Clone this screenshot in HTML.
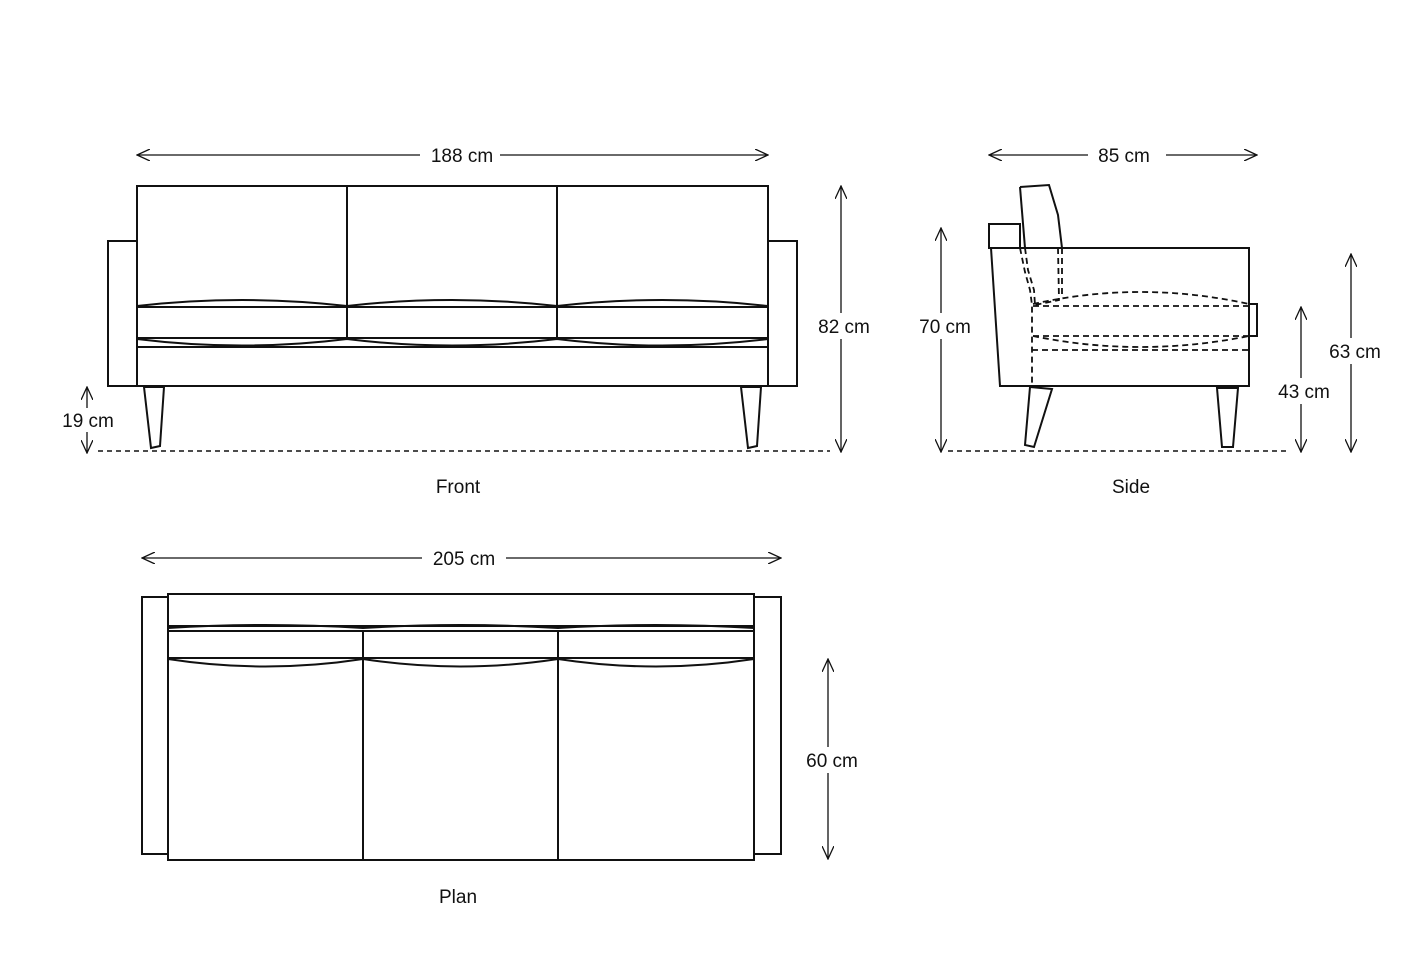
<!DOCTYPE html>
<html><head><style>body{margin:0;background:#fff}svg{display:block}text{font-family:"Liberation Sans",sans-serif;font-size:19px;fill:#111}</style></head><body>
<svg width="1401" height="959" viewBox="0 0 1401 959" xmlns="http://www.w3.org/2000/svg">
<defs><marker id="a" markerWidth="14" markerHeight="12" refX="13" refY="6" orient="auto-start-reverse" markerUnits="userSpaceOnUse"><path d="M0,0 L13,6 L0,12" fill="none" stroke="#111" stroke-width="1.3"/></marker></defs>
<g fill="none" stroke="#111" stroke-width="2">
<!-- FRONT -->
<rect x="108" y="241" width="29" height="145"/><rect x="768" y="241" width="29" height="145"/>
<rect x="137" y="186" width="631" height="200"/>
<line x1="347" y1="186" x2="347" y2="338"/><line x1="557" y1="186" x2="557" y2="338"/>
<line x1="137" y1="307" x2="768" y2="307"/><line x1="137" y1="338" x2="768" y2="338"/><line x1="137" y1="347" x2="768" y2="347"/>
<path d="M137,306 Q242,294 347,306 Q452,294 557,306 Q662,294 768,306"/>
<path d="M137,339 Q242,352 347,339 Q452,352 557,339 Q662,352 768,339"/>
<path d="M144,387 L164,387 L160,446 L151,448 Z"/><path d="M741,387 L761,387 L757,446 L748,448 Z"/>
<!-- SIDE -->
<rect x="989" y="224" width="31" height="24"/>
<path d="M991,248 L1249,248 L1249,386 L1000,386 Z"/>
<path d="M1020,187 L1049,185 L1058,215 L1062,248"/><path d="M1020,187 L1025,248"/>
<path d="M1249,304 L1257,304 L1257,336 L1249,336"/>
<path d="M1030,387 L1052,389 L1034,447 L1025,445 Z"/><path d="M1217,388 L1238,388 L1233,447 L1222,447 Z"/>
<g stroke-dasharray="6,4" stroke-width="1.8">
<path d="M1020,248 L1025,272 L1030,290 L1032,305 L1032,336 L1032,386"/>
<path d="M1025,248 L1028,270 L1034,290 L1035,305"/>
<path d="M1058,248 L1059,300 L1035,305"/><path d="M1062,248 L1062,298"/>
<line x1="1033" y1="306" x2="1249" y2="306"/><line x1="1033" y1="336" x2="1249" y2="336"/><line x1="1032" y1="350" x2="1249" y2="350"/>
<path d="M1033,304 Q1140,280 1249,304"/><path d="M1033,336 Q1140,358 1249,336"/>
</g>
<!-- PLAN -->
<rect x="142" y="597" width="26" height="257"/><rect x="754" y="597" width="27" height="257"/>
<rect x="168" y="594" width="586" height="266"/>
<line x1="168" y1="626" x2="754" y2="626"/><line x1="168" y1="631" x2="754" y2="631"/><line x1="168" y1="658" x2="754" y2="658"/>
<path d="M168,628 Q265,622 363,628 Q460,622 558,628 Q656,622 754,628"/>
<path d="M168,659 Q265,674 363,659 Q460,674 558,659 Q656,674 754,659"/>
<line x1="363" y1="631" x2="363" y2="860"/><line x1="558" y1="631" x2="558" y2="860"/>
</g>
<g stroke="#111" stroke-width="1.6" stroke-dasharray="5,4"><line x1="98" y1="451" x2="830" y2="451"/><line x1="948" y1="451" x2="1290" y2="451"/></g>
<g stroke="#111" stroke-width="1.3" fill="none">
<line x1="137" y1="155" x2="420" y2="155" marker-start="url(#a)"/><line x1="500" y1="155" x2="768" y2="155" marker-end="url(#a)"/>
<line x1="841" y1="186" x2="841" y2="452" marker-start="url(#a)" marker-end="url(#a)"/>
<line x1="87" y1="387" x2="87" y2="408" marker-start="url(#a)"/><line x1="87" y1="432" x2="87" y2="453" marker-end="url(#a)"/>
<line x1="989" y1="155" x2="1088" y2="155" marker-start="url(#a)"/><line x1="1166" y1="155" x2="1257" y2="155" marker-end="url(#a)"/>
<line x1="941" y1="228" x2="941" y2="452" marker-start="url(#a)" marker-end="url(#a)"/>
<line x1="1301" y1="307" x2="1301" y2="452" marker-start="url(#a)" marker-end="url(#a)"/>
<line x1="1351" y1="254" x2="1351" y2="452" marker-start="url(#a)" marker-end="url(#a)"/>
<line x1="142" y1="558" x2="422" y2="558" marker-start="url(#a)"/><line x1="506" y1="558" x2="781" y2="558" marker-end="url(#a)"/>
<line x1="828" y1="659" x2="828" y2="859" marker-start="url(#a)" marker-end="url(#a)"/>
</g>
<g fill="#fff"><rect x="815" y="313" width="58" height="26"/><rect x="915" y="313" width="58" height="26"/><rect x="1273" y="378" width="62" height="26"/><rect x="1325" y="338" width="60" height="26"/><rect x="802" y="747" width="60" height="26"/></g>
<text x="462" y="162" text-anchor="middle">188 cm</text>
<text x="844" y="333" text-anchor="middle">82 cm</text>
<text x="88" y="427" text-anchor="middle">19 cm</text>
<text x="1124" y="162" text-anchor="middle">85 cm</text>
<text x="945" y="333" text-anchor="middle">70 cm</text>
<text x="1304" y="398" text-anchor="middle">43 cm</text>
<text x="1355" y="358" text-anchor="middle">63 cm</text>
<text x="464" y="565" text-anchor="middle">205 cm</text>
<text x="832" y="767" text-anchor="middle">60 cm</text>
<text x="458" y="493" text-anchor="middle">Front</text>
<text x="1131" y="493" text-anchor="middle">Side</text>
<text x="458" y="903" text-anchor="middle">Plan</text>
</svg></body></html>
